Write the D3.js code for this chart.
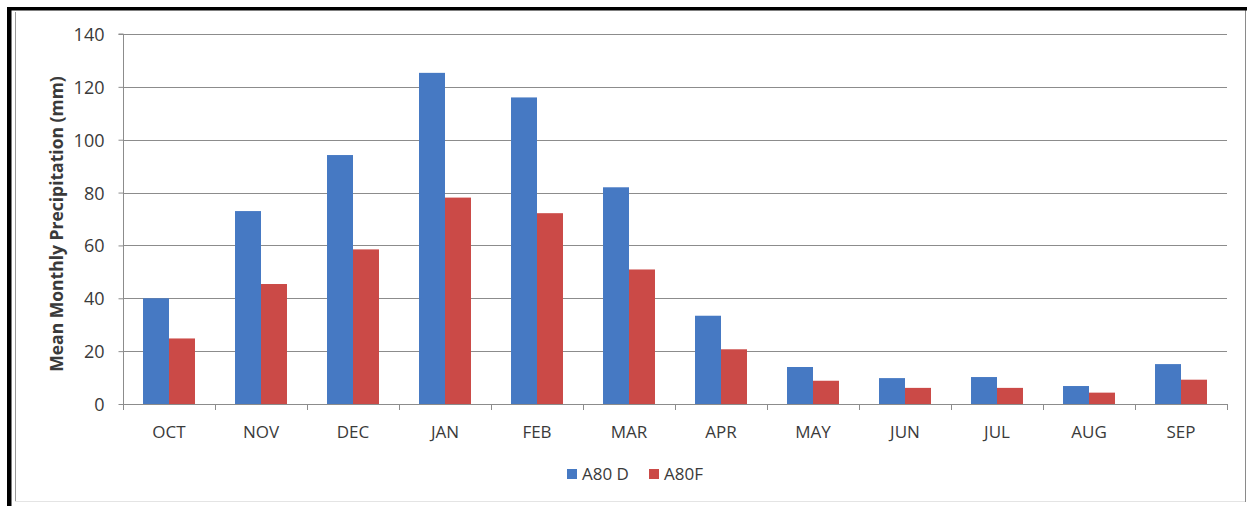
<!DOCTYPE html>
<html>
<head>
<meta charset="utf-8">
<script src="https://cdn.jsdelivr.net/npm/d3@7"></script>
<style>
  html, body { margin: 0; padding: 0; background: #ffffff; }
  svg { display: block; }
  text { font-family: "Open Sans", "DejaVu Sans", sans-serif; fill: #3a3a3a; }
</style>
</head>
<body>
<svg id="chart" width="1247" height="506"></svg>
<script>
// ---- data ----
const months = ["OCT","NOV","DEC","JAN","FEB","MAR","APR","MAY","JUN","JUL","AUG","SEP"];
const seriesNames = ["A80 D","A80F"];
const a80d = [40, 73, 94.2, 125.3, 116, 82, 33.4, 14, 9.8, 10.2, 6.8, 15.1];
const a80f = [24.8, 45.4, 58.5, 78.1, 72.2, 50.9, 20.7, 8.8, 6.1, 6.1, 4.3, 9.2];
const yTicks = [0, 20, 40, 60, 80, 100, 120, 140];
const yTitle = "Mean Monthly Precipitation (mm)";
const colors = ["#4679c3", "#cb4a47"];

const svg = d3.select("#chart");
const W = 1247, H = 506;
const m = { left: 123, right: 20, top: 34, bottom: 102 };

// frame
svg.append("rect").attr("x", 0).attr("y", 0).attr("width", W).attr("height", H).attr("fill", "#ffffff");
svg.append("line").attr("x1", 15.5).attr("x2", 15.5).attr("y1", 12).attr("y2", 502).attr("stroke", "#9a9a9a").attr("stroke-width", 1);
svg.append("line").attr("x1", 15).attr("x2", 1245).attr("y1", 501.5).attr("y2", 501.5).attr("stroke", "#e4e4e4").attr("stroke-width", 1);
svg.append("line").attr("x1", 1245.5).attr("x2", 1245.5).attr("y1", 10).attr("y2", 502).attr("stroke", "#8a8a8a").attr("stroke-width", 1);
svg.append("rect").attr("x", 7).attr("y", 7).attr("width", W - 7).attr("height", 3.5).attr("fill", "#000");
svg.append("rect").attr("x", 7).attr("y", 7).attr("width", 4.5).attr("height", H - 7).attr("fill", "#000");

const x0 = d3.scaleBand().domain(months).range([m.left, W - m.right]).paddingInner(0).paddingOuter(0);
const x1 = d3.scaleBand().domain(seriesNames).range([0, x0.bandwidth()]).paddingInner(0).paddingOuter(0.77);
const y = d3.scaleLinear().domain([0, 140]).range([H - m.bottom, m.top]);

// gridlines
svg.append("g").selectAll("line").data(yTicks.filter(d => d > 0)).join("line")
  .attr("x1", m.left).attr("x2", W - m.right)
  .attr("y1", d => Math.round(y(d)) + 0.5).attr("y2", d => Math.round(y(d)) + 0.5)
  .attr("stroke", "#8c8c8c").attr("stroke-width", 1);

// bars
const data = months.map((mo, i) => ({ month: mo, vals: [a80d[i], a80f[i]] }));
const groups = svg.append("g").selectAll("g").data(data).join("g")
  .attr("transform", d => `translate(${x0(d.month)},0)`);
groups.selectAll("rect").data(d => d.vals.map((v, j) => ({ key: seriesNames[j], v, j }))).join("rect")
  .attr("x", d => x1(d.key))
  .attr("width", x1.bandwidth())
  .attr("y", d => y(d.v))
  .attr("height", d => y(0) - y(d.v))
  .attr("fill", d => colors[d.j]);

// y axis
const yAxis = d3.axisLeft(y).tickValues(yTicks).tickSize(5).tickPadding(14);
const gy = svg.append("g").attr("transform", `translate(${m.left + 0.5},0)`).call(yAxis);
gy.select(".domain").attr("stroke", "#8c8c8c").attr("d", `M-5,${y(140)}H0V${y(0)}`);
gy.selectAll(".tick line").attr("stroke", "#8c8c8c");
gy.selectAll(".tick text").attr("font-size", 18).attr("font-family", '"Open Sans", sans-serif').attr("fill", "#3a3a3a").attr("dy", "0.36em");

// x axis baseline & ticks
const gx = svg.append("g");
gx.append("line").attr("x1", m.left).attr("x2", W - m.right)
  .attr("y1", Math.round(y(0)) + 0.5).attr("y2", Math.round(y(0)) + 0.5)
  .attr("stroke", "#8c8c8c");
const boundaries = months.map(mo => x0(mo)).concat([W - m.right]);
gx.selectAll("line.tk").data(boundaries).join("line").attr("class", "tk")
  .attr("x1", d => Math.round(d) + 0.5).attr("x2", d => Math.round(d) + 0.5)
  .attr("y1", y(0)).attr("y2", y(0) + 6)
  .attr("stroke", "#8c8c8c");
gx.selectAll("text").data(months).join("text")
  .attr("x", d => x0(d) + x0.bandwidth() / 2)
  .attr("y", y(0) + 34)
  .attr("text-anchor", "middle")
  .attr("font-size", 17)
  .text(d => d);

// y title
svg.append("text")
  .attr("transform", `translate(63,${(y(0) + y(140)) / 2 + 5}) rotate(-90)`)
  .attr("text-anchor", "middle")
  .attr("font-size", 17.5)
  .attr("font-weight", "bold")
  .attr("fill", "#1a1a1a")
  .text(yTitle);

// legend
const legend = svg.append("g");
const legendX = [567, 649];
seriesNames.forEach((s, i) => {
  legend.append("rect").attr("x", legendX[i]).attr("y", 469).attr("width", 10).attr("height", 10).attr("fill", colors[i]);
  legend.append("text").attr("x", legendX[i] + 15).attr("y", 480).attr("font-size", 17).text(s);
});
</script>
</body>
</html>
